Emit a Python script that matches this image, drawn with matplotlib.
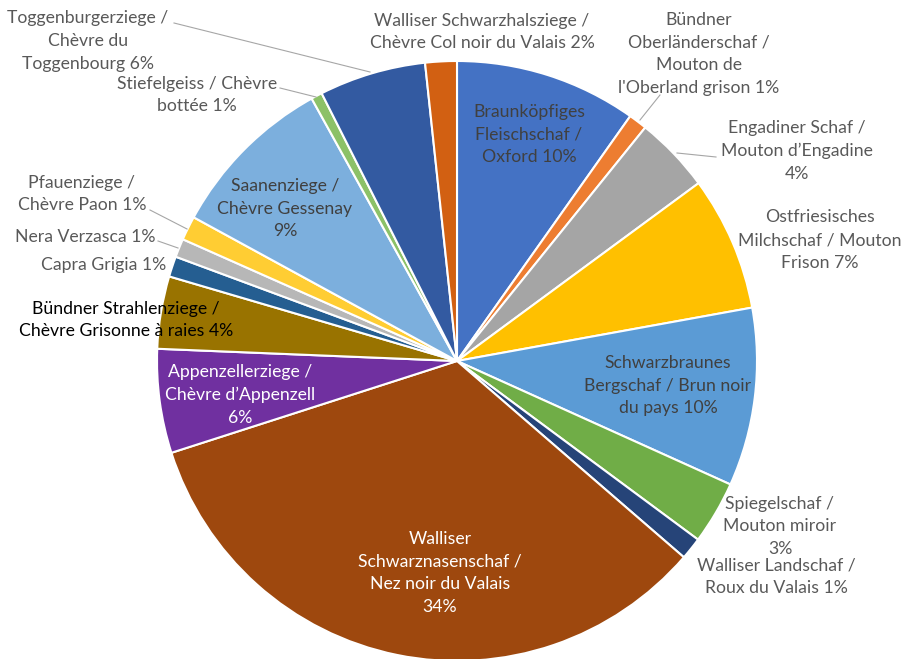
import matplotlib
matplotlib.use("Agg")
import matplotlib.pyplot as plt

# breeds, clockwise from 12 o'clock
breeds = [
    "Braunköpfiges\nFleischschaf /\nOxford",
    "Bündner\nOberländerschaf /\nMouton de\nl'Oberland grison",
    "Engadiner Schaf /\nMouton d’Engadine\n",
    "Ostfriesisches\nMilchschaf / Mouton\nFrison",
    "Schwarzbraunes\nBergschaf / Brun noir\ndu pays",
    "Spiegelschaf /\nMouton miroir\n",
    "Walliser Landschaf /\nRoux du Valais",
    "Walliser\nSchwarznasenschaf /\nNez noir du Valais\n",
    "Appenzellerziege /\nChèvre d’Appenzell\n",
    "Bündner Strahlenziege /\nChèvre Grisonne à raies",
    "Capra Grigia",
    "Nera Verzasca",
    "Pfauenziege /\nChèvre Paon",
    "Saanenziege /\nChèvre Gessenay\n",
    "Stiefelgeiss / Chèvre\nbottée",
    "Toggenburgerziege /\nChèvre du\nToggenbourg",
    "Walliser Schwarzhalsziege /\nChèvre Col noir du Valais",
]
shares = [9.8, 1.0, 4.1, 7.25, 9.6, 3.4, 1.2, 33.7, 5.6, 3.9, 1.1, 1.0, 1.3, 9.0, 0.6, 5.75, 1.7]
colors = ["#4472C4", "#ED7D31", "#A5A5A5", "#FFC000", "#5B9BD5", "#70AD47",
          "#264478", "#9E480E", "#7030A0", "#997300", "#255E91", "#B7B7B7",
          "#FFCD33", "#7CAFDD", "#8CC168", "#335AA1", "#D26012"]

# label centres in image pixels, text colour, leader line (pixels) or None
label_pos = [
    (529, 134), (699, 54), (797, 151), (820, 240), (668, 386), (780, 526),
    (776, 577), (440, 573), (240, 395), (126, 320), (104, 265), (85, 237),
    (82, 194), (285, 209), (197, 95), (88, 41), (482, 32),
]
label_col = ["#404040", "#595959", "#595959", "#595959", "#404040", "#595959",
             "#595959", "white", "white", "black", "#595959", "#595959",
             "#595959", "#404040", "#595959", "#595959", "#595959"]
leaders = {
    1: [(660, 95), (640, 120)],
    2: [(716, 157), (677, 153)],
    11: [(158, 241), (178, 248)],
    12: [(150, 210), (187, 229)],
    14: [(280, 88), (316, 97)],
    15: [(174, 23), (370, 72)],
}

W, H = 904, 659
CX, CY, R = 457, 361, 300

fig = plt.figure(figsize=(W / 100, H / 100), dpi=100)
ax = fig.add_axes([(CX - R) / W, (H - CY - R) / H, 2 * R / W, 2 * R / H])
ax.pie(shares, colors=colors, startangle=90, counterclock=False, radius=1,
       wedgeprops=dict(edgecolor="white", linewidth=1.5))
ax.set_xlim(-1, 1)
ax.set_ylim(-1, 1)
ax.axis("off")


def to_data(px, py):
    return (px - CX) / R, (CY - py) / R


total = sum(shares)
for i, name in enumerate(breeds):
    pct = f"{round(shares[i] / total * 100)}%"
    txt = name + pct if name.endswith("\n") else name + " " + pct
    x, y = to_data(*label_pos[i])
    ax.text(x, y, txt, ha="center", va="center", multialignment="center",
            fontsize=12.7, family="Lato", color=label_col[i], linespacing=1.5,
            clip_on=False)

for i, pts in leaders.items():
    (x0, y0), (x1, y1) = to_data(*pts[0]), to_data(*pts[1])
    ax.plot([x0, x1], [y0, y1], color="#A6A6A6", lw=0.8, clip_on=False)

fig.savefig("out.png", dpi=100)
